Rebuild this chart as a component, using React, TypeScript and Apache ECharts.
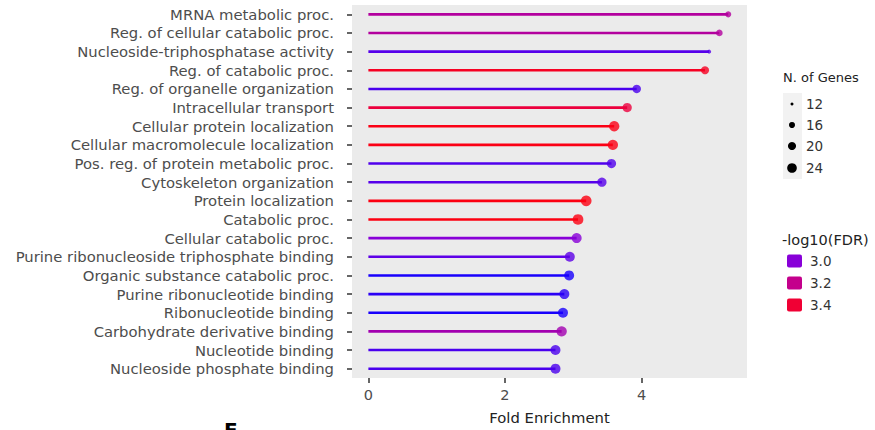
import React, { useEffect, useRef } from "react";
import * as echarts from "echarts";

// GO terms, top to bottom
const categories = [
  "MRNA metabolic proc.",
  "Reg. of cellular catabolic proc.",
  "Nucleoside-triphosphatase activity",
  "Reg. of catabolic proc.",
  "Reg. of organelle organization",
  "Intracellular transport",
  "Cellular protein localization",
  "Cellular macromolecule localization",
  "Pos. reg. of protein metabolic proc.",
  "Cytoskeleton organization",
  "Protein localization",
  "Catabolic proc.",
  "Cellular catabolic proc.",
  "Purine ribonucleoside triphosphate binding",
  "Organic substance catabolic proc.",
  "Purine ribonucleotide binding",
  "Ribonucleotide binding",
  "Carbohydrate derivative binding",
  "Nucleotide binding",
  "Nucleoside phosphate binding",
];
const foldEnrichment = [
  5.27, 5.14, 4.99, 4.93, 3.93, 3.79, 3.6, 3.58, 3.56, 3.42,
  3.19, 3.07, 3.05, 2.95, 2.94, 2.87, 2.85, 2.83, 2.74, 2.74,
];
const negLog10FDR = [
  3.15, 3.15, 2.92, 3.44, 2.9, 3.38, 3.47, 3.47, 2.91, 2.92,
  3.48, 3.48, 3.0, 2.93, 2.82, 2.85, 2.82, 3.1, 2.9, 2.9,
];
const nGenes = [
  16, 17, 13, 20, 21, 23, 26, 26, 23, 23,
  27, 27, 25, 25, 25, 25, 25, 26, 25, 25,
];
const xTickValues = [0, 2, 4];
const sizeBreaks = [12, 16, 20, 24];
const fdrBreaks = [3.0, 3.2, 3.4];

const FDR_MIN = 2.8;
const FDR_MAX = 3.5;
const fdrColors = [
  "#0c00ff", "#4a00ee", "#8800d8", "#a200b0",
  "#c4008c", "#dc0060", "#f00034", "#ff0008",
];

const FONT = "DejaVu Sans";

// point diameter: area grows linearly with gene count
const sizeOf = (g: number) => Math.sqrt(Math.max(1, 9 + (g - 12) * 7));
const colorOf = (v: number) =>
  echarts.color.lerp((v - FDR_MIN) / (FDR_MAX - FDR_MIN), fdrColors) as string;

export default function App() {
  const ref = useRef<HTMLDivElement>(null);

  useEffect(() => {
    document.body.style.margin = "0";
    if (!ref.current) return;
    const chart = echarts.init(ref.current, undefined, { renderer: "svg" });

    const rows = categories.map((c, i) => [foldEnrichment[i], c, negLog10FDR[i], nGenes[i]]);

    const sizeLegendY = [104, 125, 146, 168];
    const fdrLegendY = [261, 283, 305];

    const graphic: any[] = [
      {
        type: "text",
        x: 783,
        y: 77,
        style: { text: "N. of Genes", font: `13px "${FONT}"`, fill: "#222", verticalAlign: "middle" },
      },
      {
        type: "rect",
        shape: { x: 783, y: 93, width: 19, height: 86 },
        style: { fill: "#f2f2f2" },
      },
      ...sizeBreaks.flatMap((g, i) => [
        {
          type: "circle",
          shape: { cx: 792, cy: sizeLegendY[i], r: sizeOf(g) / 2 },
          style: { fill: "#000" },
        },
        {
          type: "text",
          x: 806,
          y: sizeLegendY[i],
          style: { text: String(g), font: `13.5px "${FONT}"`, fill: "#333", verticalAlign: "middle" },
        },
      ]),
      {
        type: "text",
        x: 782,
        y: 240,
        style: { text: "-log10(FDR)", font: `14.5px "${FONT}"`, fill: "#222", verticalAlign: "middle" },
      },
      ...fdrBreaks.flatMap((v, i) => [
        {
          type: "rect",
          shape: { x: 787, y: fdrLegendY[i] - 6.5, width: 15, height: 13, r: 2 },
          style: { fill: colorOf(v) },
        },
        {
          type: "text",
          x: 810,
          y: fdrLegendY[i],
          style: { text: v.toFixed(1), font: `13.5px "${FONT}"`, fill: "#333", verticalAlign: "middle" },
        },
      ]),
      {
        type: "text",
        x: 224,
        y: 420,
        style: { text: "E", font: `bold 20px "${FONT}"`, fill: "#000" },
      },
    ];

    chart.setOption({
      animation: false,
      backgroundColor: "#fff",
      textStyle: { fontFamily: FONT },
      grid: { left: 352, right: 128, top: 5, bottom: 49, show: true, backgroundColor: "#ebebeb", borderWidth: 0 },
      xAxis: {
        type: "value",
        min: -0.24,
        max: 5.545,
        name: "Fold Enrichment",
        nameLocation: "middle",
        nameGap: 32,
        nameTextStyle: { color: "#222", fontSize: 14.8, fontFamily: FONT },
        axisLine: { show: false, onZero: false },
        splitLine: { show: false },
        axisTick: {
          show: true,
          length: 5,
          customValues: xTickValues,
          lineStyle: { color: "#333", width: 1.5 },
        },
        axisLabel: {
          customValues: xTickValues,
          color: "#4d4d4d",
          fontSize: 14.5,
          fontFamily: FONT,
          margin: 9,
        },
      },
      yAxis: {
        type: "category",
        data: categories,
        inverse: true,
        axisLine: { show: false, onZero: false },
        splitLine: { show: false },
        axisTick: { show: true, alignWithLabel: true, length: 5, lineStyle: { color: "#333", width: 1.5 } },
        axisLabel: {
          interval: 0,
          hideOverlap: false,
          color: "#4d4d4d",
          fontSize: 14.8,
          fontFamily: FONT,
          margin: 18,
        },
      },
      visualMap: {
        show: false,
        type: "continuous",
        dimension: 2,
        seriesIndex: [0, 1],
        min: FDR_MIN,
        max: FDR_MAX,
        inRange: { color: fdrColors },
      },
      series: [
        {
          type: "bar",
          data: rows,
          encode: { x: 0, y: 1 },
          barWidth: 2.6,
          silent: true,
        },
        {
          type: "scatter",
          data: rows,
          encode: { x: 0, y: 1 },
          symbol: "circle",
          symbolSize: (d: any) => sizeOf(d[3]),
          z: 3,
        },
      ],
      graphic,
    });

    return () => chart.dispose();
  }, []);

  return <div ref={ref} style={{ width: 875, height: 430 }} />;
}
